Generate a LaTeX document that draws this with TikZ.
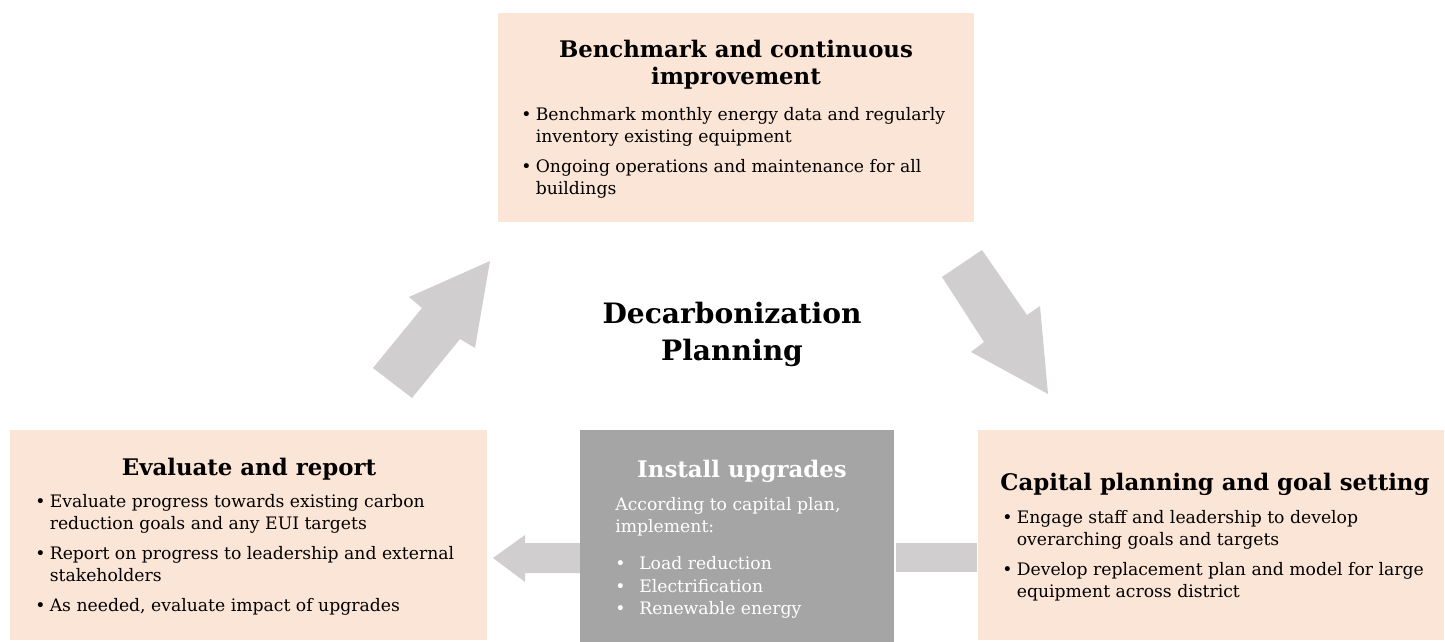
\documentclass[tikz,border=0pt]{standalone}
\usepackage{fontspec}
\setmainfont{DejaVu Serif}
\usetikzlibrary{positioning}
\definecolor{peach}{HTML}{FBE5D6}
\definecolor{slate}{HTML}{A5A5A5}
\definecolor{arrowgray}{HTML}{D0CECE}
\tikzset{%
  stagebox/.style={fill=peach, draw=none, anchor=north west, inner sep=0pt},
  stagetitle/.style={align=center, inner sep=0pt,
    font=\fontsize{13}{15.5}\selectfont\bfseries},
  stagebody/.style={anchor=north west, inner sep=0pt,
    font=\fontsize{9.8}{12.8}\selectfont},
  blockarrow/.style={fill=arrowgray, draw=none}
}
\newcommand{\pointlist}[1]{%
  \begin{tabular}{@{}l@{\hspace{0.25em}}l@{}}#1\end{tabular}}

\begin{document}
\begin{tikzpicture}[x=0.02cm, y=-0.02cm]
		\useasboundingbox (0,0) rectangle (1445,642);
		% block arrows round the cycle
		\fill [blockarrow] (373,368) -- (422,308) -- (409,297) -- (490,261)
		  -- (475,348) -- (460,339) -- (412,398) -- cycle;
		\fill [blockarrow] (942,277) -- (982,250) -- (1027,315) -- (1040,306)
		  -- (1048,394) -- (971,352) -- (984,342) -- cycle;
		\fill [blockarrow] (493,558) -- (525,535) -- (525,543) -- (580,543)
		  -- (580,573) -- (525,573) -- (525,582) -- cycle;
		\fill [blockarrow] (896,543) rectangle (977,572);
		% the four stages
		\node [stagebox, minimum width=9.52cm, minimum height=4.18cm] (bench) at (498,13) {};
		\node [stagebox, minimum width=9.54cm, minimum height=4.2cm] (evaluate) at (10,430) {};
		\node [stagebox, fill=slate, minimum width=6.28cm, minimum height=4.24cm] (install) at (580,430) {};
		\node [stagebox, minimum width=9.32cm, minimum height=4.2cm] (capital) at (978,430) {};
		\node [stagetitle] (benchtitle) at (736,65) {Benchmark and continuous\\improvement};
		\node [stagebody] (benchbody) at (521,104) {\pointlist{%
		  \textbullet & Benchmark monthly energy data and regularly\\
		  & inventory existing equipment\\[4pt]
		  \textbullet & Ongoing operations and maintenance for all\\
		  & buildings}};
		\node [stagetitle] (evaltitle) at (249,469) {Evaluate and report};
		\node [stagebody] (evalbody) at (35,491) {\pointlist{%
		  \textbullet & Evaluate progress towards existing carbon\\
		  & reduction goals and any EUI targets\\[4pt]
		  \textbullet & Report on progress to leadership and external\\
		  & stakeholders\\[4pt]
		  \textbullet & As needed, evaluate impact of upgrades}};
		\node [stagetitle, white] (installtitle) at (742,471) {Install upgrades};
		\node [stagebody, white] (installbody) at (615,494) {%
		  \begin{tabular}{@{}l@{}}According to capital plan,\\implement:\end{tabular}};
		\node [stagebody, white, below=0.28cm of installbody.south west, anchor=north west]
		  (installlist) {\pointlist{%
		  \textbullet\hspace{0.55em} & Load reduction\\
		  \textbullet\hspace{0.55em} & Electrification\\
		  \textbullet\hspace{0.55em} & Renewable energy}};
		\node [stagetitle] (capitaltitle) at (1215,484) {Capital planning and goal setting};
		\node [stagebody] (capitalbody) at (1002,507) {\pointlist{%
		  \textbullet & Engage staff and leadership to develop\\
		  & overarching goals and targets\\[4pt]
		  \textbullet & Develop replacement plan and model for large\\
		  & equipment across district}};
		% centre label
		\node [stagetitle, font=\fontsize{16}{21}\selectfont\bfseries] (cycle) at (732,334)
		  {Decarbonization\\Planning};
	\end{tikzpicture}
\end{document}
